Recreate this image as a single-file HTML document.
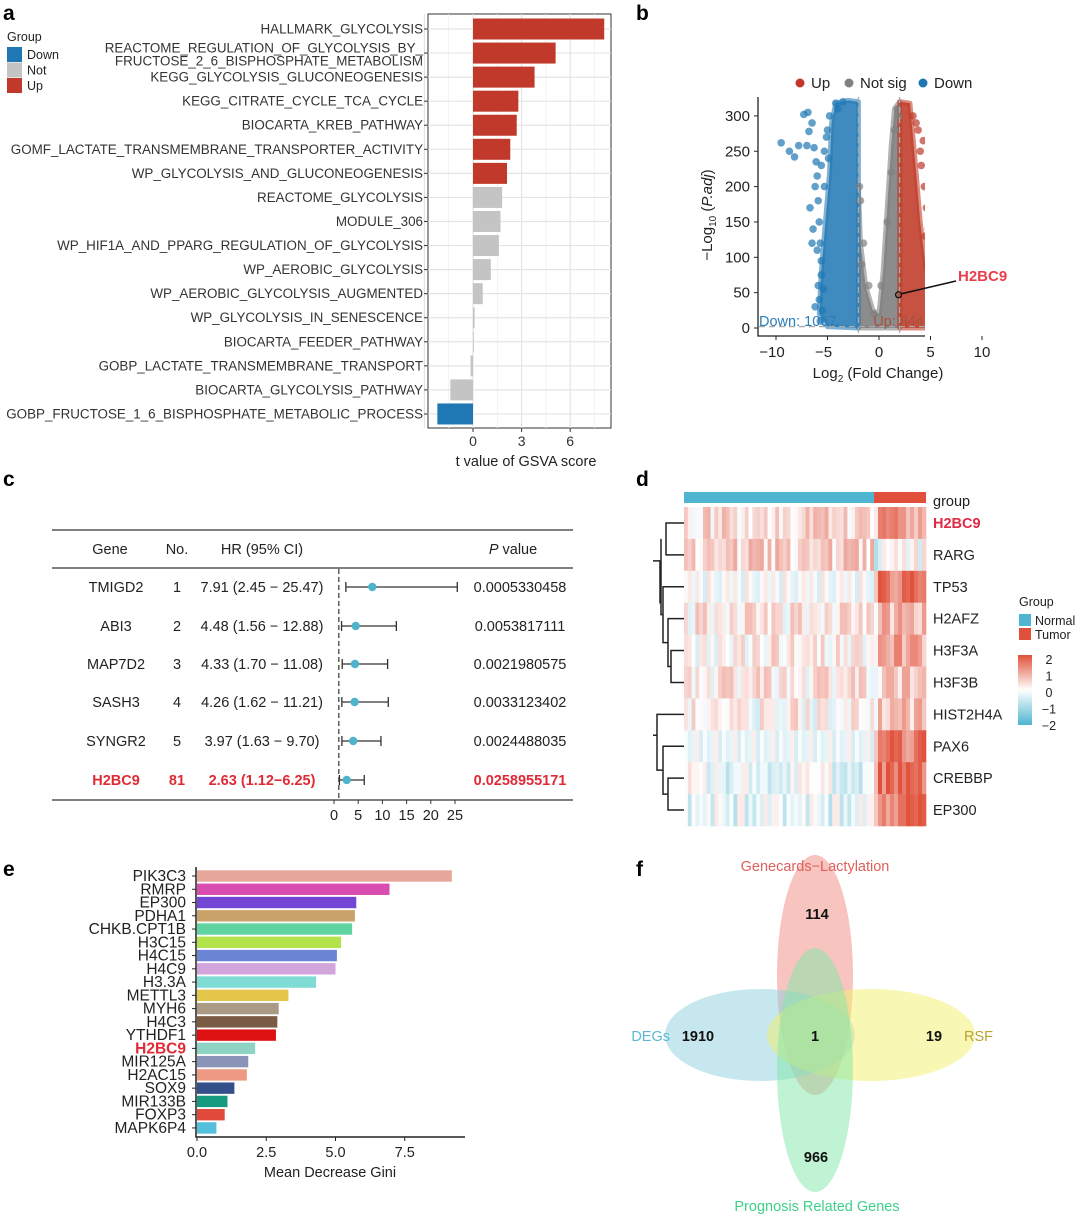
<!DOCTYPE html>
<html><head><meta charset="utf-8"><style>
html,body{margin:0;padding:0;background:#fff;}
svg{display:block;font-family:"Liberation Sans",Arial,sans-serif;}
</style></head><body>
<svg id="fig" width="1080" height="1216" viewBox="0 0 1080 1216">
<g font-weight="bold" font-size="21" fill="#000">
<text x="3" y="20">a</text>
<text x="636" y="20">b</text>
<text x="3" y="486">c</text>
<text x="636" y="486">d</text>
<text x="3" y="876">e</text>
<text x="636" y="876">f</text>
</g>
<g id="pa"></g>
<g id="pb"></g>
<g id="pc"></g>
<g id="pd"></g>
<g id="pe"></g>
<g id="pf"></g>
</svg>
<script>
// ---------- Panel a data ----------
const aPathways=["HALLMARK_GLYCOLYSIS","REACTOME_REGULATION_OF_GLYCOLYSIS_BY_\nFRUCTOSE_2_6_BISPHOSPHATE_METABOLISM","KEGG_GLYCOLYSIS_GLUCONEOGENESIS","KEGG_CITRATE_CYCLE_TCA_CYCLE","BIOCARTA_KREB_PATHWAY","GOMF_LACTATE_TRANSMEMBRANE_TRANSPORTER_ACTIVITY","WP_GLYCOLYSIS_AND_GLUCONEOGENESIS","REACTOME_GLYCOLYSIS","MODULE_306","WP_HIF1A_AND_PPARG_REGULATION_OF_GLYCOLYSIS","WP_AEROBIC_GLYCOLYSIS","WP_AEROBIC_GLYCOLYSIS_AUGMENTED","WP_GLYCOLYSIS_IN_SENESCENCE","BIOCARTA_FEEDER_PATHWAY","GOBP_LACTATE_TRANSMEMBRANE_TRANSPORT","BIOCARTA_GLYCOLYSIS_PATHWAY","GOBP_FRUCTOSE_1_6_BISPHOSPHATE_METABOLIC_PROCESS"];
const aValues=[8.1,5.1,3.8,2.8,2.7,2.3,2.1,1.8,1.7,1.6,1.1,0.6,0.1,0.02,-0.15,-1.4,-2.2];
const aGroups=["Up","Up","Up","Up","Up","Up","Up","Not","Not","Not","Not","Not","Not","Not","Not","Not","Down"];
const aTicks=[0,3,6];
// ---------- Panel b data ----------
const bXTicks=[-10,-5,0,5,10];
const bYTicks=[0,50,100,150,200,250,300];
const bDownEnvelope=[[-2,0],[-2,320],[-3,322],[-4.2,318],[-4.6,290],[-4.8,220],[-5.2,150],[-5.6,80],[-5.8,20],[-5,2]];
const bNotEnvelope=[[-2,0],[-2,200],[-1.8,120],[-1.3,60],[-0.6,25],[0,20],[0.4,80],[0.8,170],[1.2,260],[1.5,310],[2,320],[2,0]];
const bUpEnvelope=[[2,0],[2,320],[3,318],[3.3,270],[3.6,220],[4,150],[4.5,90],[5.2,40],[5.5,10],[4.5,0]];
const bDownX=[-9.5,-8.7,-8.2,-7.8,-7.3,-7,-6.8,-6.5,-6.3,-6.1,-6,-5.9,-5.8,-5.7,-5.6,-6.2,-5.9,-6.4,-5.8,-6.7,-5.5,-5.7,-6,-5.6,-5.3,-4.8,-4.2,-3.5,-4,-5,-5.3,-5.6,-6.5,-6.9,-5.4,-5.1,-6.2,-4.9];
const bDownY=[262,250,242,258,302,258,278,290,255,235,215,180,150,120,95,200,60,140,40,170,25,10,110,75,200,300,318,320,310,280,250,230,120,305,55,270,30,240];
const bUpX=[11.3,8.5,7.6,6.2,5.9,5.7,5.5,5.3,5.1,5,4.8,5.5,6.1,5.2,4.9,6.6,5.8,4.6,6.5,5.6,5.2,4.4,3.8,3.3,4,4.5,4.3,3.6,5.9,4.1];
const bUpY=[245,103,78,230,275,255,240,210,225,160,140,120,60,90,100,45,35,170,42,15,190,200,280,300,250,130,265,290,20,230];
const bNotX=[-1.8,-1.5,-1,-0.5,0.2,0.8,1.2,1.5,1.8,1.9,-1.9,-1.7];
const bNotY=[180,120,60,20,60,150,220,280,310,300,200,90];
// ---------- Panel c data ----------
const cGenes=["TMIGD2","ABI3","MAP7D2","SASH3","SYNGR2","H2BC9"];
const cNo=["1","2","3","4","5","81"];
const cHR=[7.91,4.48,4.33,4.26,3.97,2.63];
const cLow=[2.45,1.56,1.70,1.62,1.63,1.12];
const cHigh=[25.47,12.88,11.08,11.21,9.70,6.25];
const cHRText=["7.91 (2.45 − 25.47)","4.48 (1.56 − 12.88)","4.33 (1.70 − 11.08)","4.26 (1.62 − 11.21)","3.97 (1.63 − 9.70)","2.63 (1.12−6.25)"];
const cP=["0.0005330458","0.0053817111","0.0021980575","0.0033123402","0.0024488035","0.0258955171"];
const cTicks=[0,5,10,15,20,25];
// ---------- Panel d data ----------
const dGenes=["H2BC9","RARG","TP53","H2AFZ","H3F3A","H3F3B","HIST2H4A","PAX6","CREBBP","EP300"];
const dNormalMean=[0.35,0.45,-0.2,0.2,0.1,0.2,0.05,-0.35,-0.25,-0.3];
const dTumorMean=[0.9,-0.2,1.3,0.6,0.8,0.4,0.5,1.3,1.4,1.3];
const dNormalPattern=[0.3,-0.4,0.6,-0.2,0.1,0.5,-0.6,0.2,0.4,-0.3,0,0.7,-0.5,0.3,-0.1,0.5,-0.4,0.2,0.6,-0.2,0.1,-0.6,0.4,0,0.3,-0.3,0.5,-0.1,0.2,-0.5,0.6,0.1,-0.2,0.4,-0.4,0.3,0,-0.3,0.5,0.2,-0.1,0.4,-0.5,0.1,0.3,-0.2,0.6,-0.4,0.2,0];
const dTumorPattern=[-0.6,0.3,0.5,-0.2,0.6,0.1,0.4,-0.3,0.5,0.2,0.6,-0.1,0.3];
// ---------- Panel e data ----------
const eGenes=["PIK3C3","RMRP","EP300","PDHA1","CHKB.CPT1B","H3C15","H4C15","H4C9","H3.3A","METTL3","MYH6","H4C3","YTHDF1","H2BC9","MIR125A","H2AC15","SOX9","MIR133B","FOXP3","MAPK6P4"];
const eValues=[9.2,6.95,5.75,5.7,5.6,5.2,5.05,5.0,4.3,3.3,2.95,2.9,2.85,2.1,1.85,1.8,1.35,1.1,1.0,0.7];
const eColors=["#e8a79b","#d94cb0","#7446d6","#c9a26a","#5fd3a0","#b3e34a","#6b84d4","#d2a6dc","#7fdcd4","#e3c64a","#aa9a85","#7a5c45","#dd1111","#8fd3c4","#8a94b6","#ee9a83","#34508a","#169a80","#e04a3a","#56bfdc"];
const eTicks=[0,2.5,5,7.5];
const eTickLabels=["0.0","2.5","5.0","7.5"];
// ---------- Panel f data ----------
const fSetNames=["Genecards−Lactylation","DEGs","RSF","Prognosis Related Genes"];
const fCounts=[114,1910,19,966,1];

const NS="http://www.w3.org/2000/svg";
function mk(parent,tag,attrs,text){const e=document.createElementNS(NS,tag);for(const k in attrs)e.setAttribute(k,attrs[k]);if(text!==undefined)e.textContent=text;parent.appendChild(e);return e;}

// ===== Panel a =====
(function(){
const g=document.getElementById('pa');
const x=v=>473+v*16.2; const y0=29, step=24.06;
const box=mk(g,'rect',{x:428,y:14,width:183,height:414,fill:'#fff',stroke:'#333','stroke-width':1});


[-3,-1.5,0,1.5,3,4.5,6,7.5].forEach(t=>{const l=mk(g,'line',{x1:x(t),x2:x(t),y1:14,y2:428,stroke:t%3===0?'#e4e4e4':'#f0f0f0','stroke-width':t%3===0?1.2:0.8});

});
aValues.forEach((v,i)=>{const cy=y0+i*step;
const gl=mk(g,'line',{x1:428,x2:611,y1:cy,y2:cy,stroke:'#e4e4e4','stroke-width':1.2});

});
const col={Up:'#c0392b',Not:'#c4c4c4',Down:'#1f77b4'};
aValues.forEach((v,i)=>{const cy=y0+i*step;
const r=mk(g,'rect',{x:Math.min(x(0),x(v)),y:cy-10.5,width:Math.max(Math.abs(x(v)-x(0)),0.8),height:21,fill:col[aGroups[i]]});


const lines=aPathways[i].split('\n');
lines.forEach((s,j)=>{const t=mk(g,'text',{x:423,y:cy+4.5+(lines.length>1?(j===0?-5:8):0),'text-anchor':'end','font-size':13.4,fill:'#333'},s);

});
const tk=mk(g,'line',{x1:424,x2:428,y1:cy,y2:cy,stroke:'#333'});


});
aTicks.forEach(t=>{const tk=mk(g,'line',{x1:x(t),x2:x(t),y1:428,y2:432,stroke:'#333'});


const tl=mk(g,'text',{x:x(t),y:446,'text-anchor':'middle','font-size':14,fill:'#333'},String(t));

});
const xt=mk(g,'text',{x:526,y:466,'text-anchor':'middle','font-size':14.5,fill:'#222'},'t value of GSVA score');


const lt=mk(g,'text',{x:7,y:41,'font-size':12.5,fill:'#222'},'Group');


[['Down','#1f77b4'],['Not','#c4c4c4'],['Up','#c0392b']].forEach((d,i)=>{
const r=mk(g,'rect',{x:7,y:47+i*15.5,width:15,height:15,fill:d[1]});


const t=mk(g,'text',{x:27,y:59+i*15.5,'font-size':12.5,fill:'#222'},d[0]);

});
})();

// ===== Panel b =====
(function(){
const g=document.getElementById('pb');
const x=v=>879+v*10.3, y=v=>328-v*0.707;
const clip=mk(g,'clipPath',{id:'bclip'});mk(clip,'rect',{x:759,y:95,width:166,height:240});
const pg=mk(g,'g',{'clip-path':'url(#bclip)'});


function env(pts,c,name){const p=mk(pg,'polygon',{points:pts.map(p=>x(p[0])+','+y(p[1])).join(' '),fill:c,stroke:c,'stroke-width':5,'stroke-linejoin':'round','fill-opacity':0.9,'stroke-opacity':0.6});

}
env(bNotEnvelope,'#808080','not-sig-cloud');
env(bDownEnvelope,'#2a7db8','down-cloud');
env(bUpEnvelope,'#c23f2c','up-cloud');
function pts(xs,ys,c,name){xs.forEach((v,i)=>{const p=mk(pg,'circle',{cx:x(v),cy:y(ys[i]),r:3.8,fill:c,'fill-opacity':0.7});

});}
pts(bNotX,bNotY,'#808080','not-sig-point');
pts(bDownX,bDownY,'#1f77b4','down-point');
pts(bUpX,bUpY,'#c0392b','up-point');
[-2,2].forEach(v=>{const l=mk(g,'line',{x1:x(v),x2:x(v),y1:97,y2:336,stroke:'#aaa','stroke-dasharray':'6,4','stroke-width':1.3});

});
const hl=mk(g,'line',{x1:759,x2:925,y1:y(2),y2:y(2),stroke:'#aaa','stroke-dasharray':'6,4','stroke-width':1.3});


const ax=mk(g,'path',{d:'M758,97 V336 H925',fill:'none',stroke:'#222','stroke-width':1.3});


bXTicks.forEach(t=>{mk(g,'line',{x1:x(t),x2:x(t),y1:336,y2:340,stroke:'#222'});
const tl=mk(g,'text',{x:x(t)-(t<0?4:0),y:357,'text-anchor':'middle','font-size':15,fill:'#222'},t<0?'−'+Math.abs(t):String(t));

});
bYTicks.forEach(t=>{mk(g,'line',{x1:754,x2:758,y1:y(t),y2:y(t),stroke:'#222'});
const tl=mk(g,'text',{x:750,y:y(t)+5,'text-anchor':'end','font-size':15,fill:'#222'},String(t));

});
const xt=mk(g,'text',{x:878,y:378,'text-anchor':'middle','font-size':15,fill:'#222'});
xt.innerHTML='Log<tspan font-size="10" dy="4">2</tspan><tspan dy="-4"> (Fold Change)</tspan>';


const yt=mk(g,'text',{transform:'translate(712,215) rotate(-90)','text-anchor':'middle','font-size':15,fill:'#222'});
yt.innerHTML='−Log<tspan font-size="10" dy="4">10</tspan><tspan dy="-4"> (</tspan><tspan font-style="italic">P.adj</tspan>)';


const dl=mk(g,'text',{x:759,y:326,'font-size':14.5,fill:'#2a7db8'},'Down: 1067');


const ul=mk(g,'text',{x:924,y:326,'text-anchor':'end','font-size':14.5,fill:'#a9503f'},'Up: 844');


const hp=mk(g,'circle',{cx:x(1.9),cy:y(47),r:3,fill:'none',stroke:'#111','stroke-width':1.3});


mk(g,'line',{x1:x(1.9)+3,y1:y(47)-1,x2:956,y2:281,stroke:'#111','stroke-width':1.5});
const ht=mk(g,'text',{x:958,y:281,'font-size':15,'font-weight':'bold',fill:'#e8404a'},'H2BC9');


[['Up','#c0392b',800],['Not sig','#808080',849],['Down','#1f77b4',923]].forEach(d=>{
const c=mk(g,'circle',{cx:d[2],cy:83,r:4.5,fill:d[1]});


const t=mk(g,'text',{x:d[2]+11,y:88,'font-size':15,fill:'#222'},d[0]);

});
})();

// ===== Panel c =====
(function(){
const g=document.getElementById('pc');
const x=v=>334+v*4.84; const rowY=[587,626,664,702,741,780];
[[530],[568],[800]].forEach(d=>{const l=mk(g,'line',{x1:52,x2:573,y1:d[0],y2:d[0],stroke:'#333','stroke-width':1.3});

});
[['Gene',110],['No.',177],['HR (95% CI)',262]].forEach(h=>{const t=mk(g,'text',{x:h[1],y:554,'text-anchor':'middle','font-size':14.5,fill:'#222'},h[0]);

});
const ph=mk(g,'text',{x:513,y:554,'text-anchor':'middle','font-size':14.5,fill:'#222'});
ph.innerHTML='<tspan font-style="italic">P</tspan> value';


const dash=mk(g,'line',{x1:x(1),x2:x(1),y1:569,y2:800,stroke:'#222','stroke-dasharray':'5,3','stroke-width':1.1});


cGenes.forEach((gname,i)=>{const last=i===cGenes.length-1;const fill=last?'#e02a35':'#222';const fw=last?'bold':'normal';const yy=rowY[i]+5;
[[gname,116],[cNo[i],177],[cHRText[i],262],[cP[i],520]].forEach((c,j)=>{const t=mk(g,'text',{x:c[1],y:yy,'text-anchor':'middle','font-size':14.5,'font-weight':fw,fill:fill},c[0]);

});
const ci=mk(g,'path',{d:`M${x(cLow[i])},${rowY[i]-5}V${rowY[i]+5}M${x(cLow[i])},${rowY[i]}H${x(cHigh[i])}M${x(cHigh[i])},${rowY[i]-5}V${rowY[i]+5}`,stroke:'#333',fill:'none','stroke-width':1.3});


const p=mk(g,'circle',{cx:x(cHR[i]),cy:rowY[i],r:4.2,fill:'#4fb3cc'});

});
cTicks.forEach(t=>{mk(g,'line',{x1:x(t),x2:x(t),y1:800,y2:804,stroke:'#333'});
const tl=mk(g,'text',{x:x(t),y:820,'text-anchor':'middle','font-size':14.5,fill:'#222'},String(t));

});
})();

// ===== Panel d =====
(function(){
const g=document.getElementById('pd');
const x0=684,xs=874,x1=926,yTop=507,rh=31.9;
function color(v){v=Math.max(-2,Math.min(2,v));let r,gg,b;
if(v>=0){const t=v/2;r=255+(224-255)*t;gg=255+(80-255)*t;b=255+(58-255)*t;}
else{const t=-v/2;r=255+(79-255)*t;gg=255+(181-255)*t;b=255+(208-255)*t;}
return `rgb(${r|0},${gg|0},${b|0})`;}
const gb1=mk(g,'rect',{x:x0,y:492,width:xs-x0,height:11,fill:'#4fb5d0'});


const gb2=mk(g,'rect',{x:xs,y:492,width:x1-xs,height:11,fill:'#e0503a'});


const nN=dNormalPattern.length,nT=dTumorPattern.length;
dGenes.forEach((gn,i)=>{const yy=yTop+i*rh;
for(let j=0;j<nN;j++){const w=(xs-x0)/nN;const v=dNormalMean[i]+dNormalPattern[(j*(i+3))%nN]*0.9;
const c=mk(g,'rect',{x:x0+j*w,y:yy,width:w+0.3,height:rh+0.3,fill:color(v)});

}
for(let j=0;j<nT;j++){const w=(x1-xs)/nT;const v=dTumorMean[i]+dTumorPattern[(j*(i+2))%nT]*1.1;
const c=mk(g,'rect',{x:xs+j*w,y:yy,width:w+0.3,height:rh+0.3,fill:color(v)});

}
const t=mk(g,'text',{x:933,y:yy+rh/2+5,'font-size':14.5,fill:i===0?'#e02a45':'#222','font-weight':i===0?'bold':'normal'},gn);

});
const gl=mk(g,'text',{x:933,y:506,'font-size':14.5,fill:'#222'},'group');


const rc=i=>yTop+rh*(i+0.5);
const den=mk(g,'path',{d:`M684,${rc(0)}H666V${rc(1)}H684 M684,${rc(4)}H671V${rc(5)}H684 M671,${(rc(4)+rc(5))/2}H668V${rc(3)}H684 M668,${(rc(3)+(rc(4)+rc(5))/2)/2}H663V${rc(2)}H684 M684,${rc(8)}H668V${rc(9)}H684 M668,${(rc(8)+rc(9))/2}H663V${rc(7)}H684 M663,${(rc(7)+(rc(8)+rc(9))/2)/2}H657V${rc(6)}H684 M663,${(rc(2)+(rc(3)+(rc(4)+rc(5))/2)/2)/2}H661V${(rc(0)+rc(1))/2} M661,${(rc(2)+rc(3))/2}H660V${(rc(0)+rc(1))/2+22}H653 M657,${(rc(6)+rc(7)+10)/2}H653`,fill:'none',stroke:'#222','stroke-width':1.5});


const lg=mk(g,'text',{x:1019,y:606,'font-size':12.5,fill:'#222'},'Group');


[['Normal','#4fb5d0'],['Tumor','#e0503a']].forEach((d,i)=>{const r=mk(g,'rect',{x:1019,y:614+i*14,width:12,height:12,fill:d[1]});


const t=mk(g,'text',{x:1035,y:625+i*14,'font-size':12.5,fill:'#222'},d[0]);

});
const defs=mk(g,'defs',{});const lgd=mk(defs,'linearGradient',{id:'hg',x1:0,y1:0,x2:0,y2:1});
mk(lgd,'stop',{offset:'0',style:'stop-color:#e0503a'});mk(lgd,'stop',{offset:'0.5',style:'stop-color:#fff'});mk(lgd,'stop',{offset:'1',style:'stop-color:#4fb5d0'});
const cb=mk(g,'rect',{x:1018,y:655,width:14,height:70,fill:'url(#hg)'});


['2','1','0','−1','−2'].forEach((s,i)=>{const t=mk(g,'text',{x:1049,y:664+i*16.5,'text-anchor':'middle','font-size':12.5,fill:'#222'},s);

});
})();

// ===== Panel e =====
(function(){
const g=document.getElementById('pe');
const x=v=>197+v*27.7; const y0=876, step=13.26;
eValues.forEach((v,i)=>{const cy=y0+i*step;
const r=mk(g,'rect',{x:x(0),y:cy-5.7,width:x(v)-x(0),height:11.4,fill:eColors[i]});


const t=mk(g,'text',{x:186,y:cy+5,'text-anchor':'end','font-size':15.5,fill:i===13?'#e02a35':'#222','font-weight':i===13?'bold':'normal'},eGenes[i]);


mk(g,'line',{x1:192,x2:196,y1:cy,y2:cy,stroke:'#222'});});
const ax=mk(g,'path',{d:'M196,867V1137H465',fill:'none',stroke:'#222','stroke-width':1.5});


eTicks.forEach((t,i)=>{mk(g,'line',{x1:x(t),x2:x(t),y1:1137,y2:1141,stroke:'#222'});
const tl=mk(g,'text',{x:x(t),y:1157,'text-anchor':'middle','font-size':14.5,fill:'#222'},eTickLabels[i]);

});
const xt=mk(g,'text',{x:330,y:1177,'text-anchor':'middle','font-size':14.5,fill:'#222'},'Mean Decrease Gini');


})();

// ===== Panel f =====
(function(){
const g=document.getElementById('pf');
const shapes=[['ellipse',{cx:815,cy:975,rx:38,ry:120,fill:'#f08a80'},'set-genecards'],
['ellipse',{cx:760,cy:1035,rx:95,ry:46,fill:'#8fd0e0'},'set-degs'],
['ellipse',{cx:871,cy:1035,rx:104,ry:46,fill:'#f2f06a'},'set-rsf'],
['ellipse',{cx:815,cy:1070,rx:38,ry:122,fill:'#7fe8a8'},'set-prognosis']];
shapes.forEach(s=>{const e=mk(g,s[0],Object.assign({'fill-opacity':0.5},s[1]));

});
const lbl=[[fSetNames[0],815,871,'#e0605a','middle'],[fSetNames[1],670,1041,'#5ab8d4','end'],[fSetNames[2],964,1041,'#b8a430','start'],[fSetNames[3],817,1211,'#3ed08a','middle']];
lbl.forEach(l=>{const t=mk(g,'text',{x:l[1],y:l[2],'text-anchor':l[4],'font-size':14.5,fill:l[3]},l[0]);

});
const cp=[[817,919],[698,1041],[934,1041],[816,1162],[815,1041]];
fCounts.forEach((c,i)=>{const t=mk(g,'text',{x:cp[i][0],y:cp[i][1],'text-anchor':'middle','font-size':14.5,'font-weight':'bold',fill:'#111'},String(c));

});
})();
</script>
</body></html>
